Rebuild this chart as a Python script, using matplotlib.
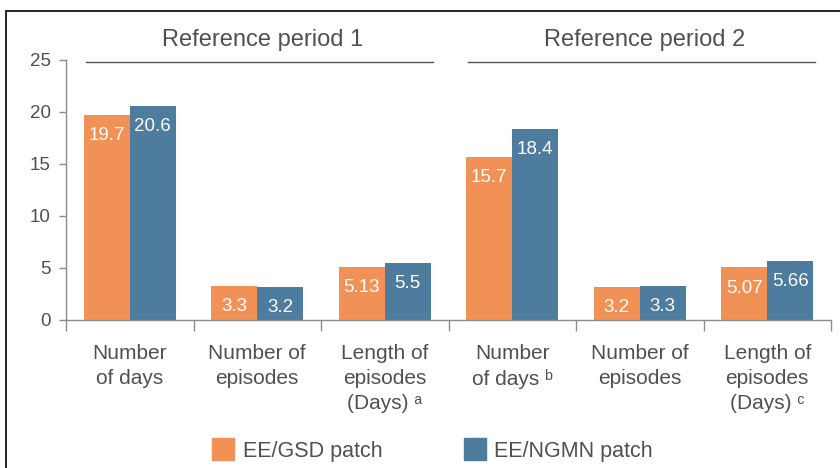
import matplotlib
matplotlib.use("Agg")
import matplotlib.pyplot as plt
from matplotlib.lines import Line2D
from matplotlib.patches import Rectangle
import numpy as np

plt.rcParams['font.family'] = ['Liberation Sans', 'DejaVu Sans']

categories = ["Number\nof days", "Number of\nepisodes", "Length of\nepisodes\n(Days) \u1d43",
              "Number\nof days \u1d47", "Number of\nepisodes", "Length of\nepisodes\n(Days) \u1d9c"]
gsd = [19.7, 3.3, 5.13, 15.7, 3.2, 5.07]
ngmn = [20.6, 3.2, 5.5, 18.4, 3.3, 5.66]
gsd_labels = ["19.7", "3.3", "5.13", "15.7", "3.2", "5.07"]
ngmn_labels = ["20.6", "3.2", "5.5", "18.4", "3.3", "5.66"]
periods = ["Reference period 1", "Reference period 2"]
series = ["EE/GSD patch", "EE/NGMN patch"]

orange = "#F29155"
blue = "#4E7C9E"
txt = "#505050"
axc = "#8c8c8c"

fig = plt.figure(figsize=(8.4, 4.68), dpi=100)
ax = fig.add_axes([66/840, 148/468, 765/840, 260/468])

x = np.arange(len(categories))
w = 0.36
b1 = ax.bar(x - w/2, gsd, w, color=orange)
b2 = ax.bar(x + w/2, ngmn, w, color=blue)

for bars, labs in ((b1, gsd_labels), (b2, ngmn_labels)):
    for r, lab in zip(bars, labs):
        ax.annotate(lab, (r.get_x() + r.get_width()/2, r.get_height()),
                    xytext=(0, -15), textcoords="offset points",
                    ha="center", va="center", color="white", fontsize=13.5)

ax.set_xlim(-0.5, 5.5)
ax.set_ylim(0, 25)
ax.set_yticks([0, 5, 10, 15, 20, 25])
ax.tick_params(axis='y', direction='out', length=5, color=axc, labelsize=13.5,
               labelcolor=txt, pad=6, width=1)
ax.set_xticks(x)
ax.set_xticklabels(categories, fontsize=15, color=txt, linespacing=1.4, va='top')
ax.tick_params(axis='x', length=0, pad=17)
ax.set_xticks(np.arange(-0.5, 6.0, 1.0), minor=True)
ax.tick_params(axis='x', which='minor', direction='out', length=8, color=axc, width=1)

for s in ("top", "right"):
    ax.spines[s].set_visible(False)
for s in ("left", "bottom"):
    ax.spines[s].set_color(axc)
    ax.spines[s].set_linewidth(1)

# group headers
ax.plot([-0.343, 2.378], [24.8, 24.8], color="#555555", lw=1, clip_on=False)
ax.plot([2.653, 5.375], [24.8, 24.8], color="#555555", lw=1, clip_on=False)
ax.text(1.04, 26.9, periods[0], ha="center", va="center", fontsize=17, color=txt)
ax.text(4.04, 26.9, periods[1], ha="center", va="center", fontsize=17, color=txt)

handles = [Line2D([], [], marker='s', ls='', color=orange, markersize=16.5),
           Line2D([], [], marker='s', ls='', color=blue, markersize=16.5)]
fig.legend(handles, series, loc='center', bbox_to_anchor=(0.514, 0.036), ncol=2,
           frameon=False, fontsize=15.5, labelcolor=txt, columnspacing=3.7,
           handletextpad=0.3, handlelength=1.2)

# frame border
fig.patches.append(Rectangle((6/840, -0.1), 2.0, 1.1 - 11/468, transform=fig.transFigure,
                             fill=False, edgecolor="black", lw=1.2, clip_on=False))

fig.savefig("out.png", dpi=100)
